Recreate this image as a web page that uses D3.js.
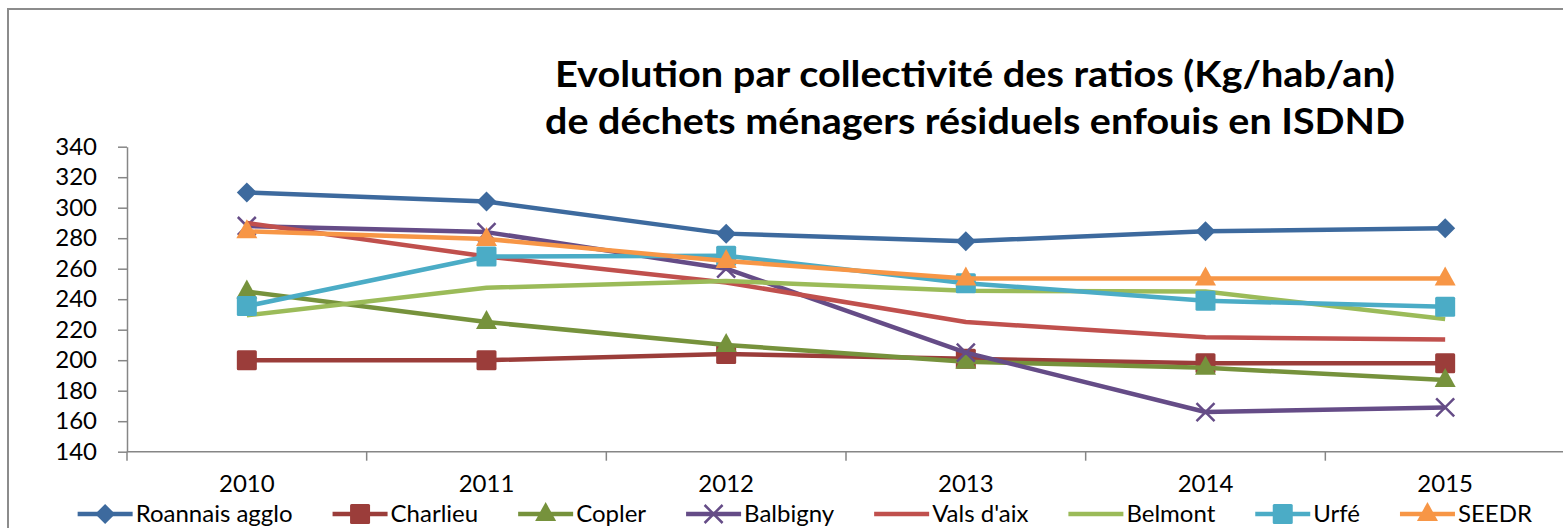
<!DOCTYPE html>
<html>
<head>
<meta charset="utf-8">
<script src="https://cdn.jsdelivr.net/npm/d3@7"></script>
<style>
  html, body { margin: 0; padding: 0; background: #fff; overflow: hidden; }
  svg { display: block; font-family: Lato, "Open Sans", sans-serif; }
</style>
</head>
<body>
<svg id="chart" width="1563" height="528"></svg>
<script>
// données (kg/hab/an)
const years = ["2010", "2011", "2012", "2013", "2014", "2015"];
const seriesNames = ["Roannais agglo", "Charlieu", "Copler", "Balbigny", "Vals d'aix", "Belmont", "Urfé", "SEEDR"];
const roannais = [310, 304, 283, 278, 284.5, 286.5];
const charlieu = [200, 200, 204, 201, 198, 198];
const copler = [245, 225, 210, 199, 195, 187];
const balbigny = [288, 284, 260, 205, 166, 169];
const valsDaix = [290, 268, 251, 225, 215, 213.5];
const belmont = [229.5, 247.5, 252, 245.5, 245, 227];
const urfe = [235.5, 268, 268.5, 250.5, 239, 235];
const seedr = [284.5, 279.5, 265, 253.5, 253.5, 253.5];
const yTicks = [140, 160, 180, 200, 220, 240, 260, 280, 300, 320, 340];
const titleLines = ["Evolution par collectivité des ratios (Kg/hab/an)",
                    "de déchets ménagers résiduels enfouis en ISDND"];

const colors = ["#3d6a9e", "#9b3d3a", "#76923c", "#654c87", "#c0504d", "#9bbb59", "#4bacc6", "#f79646"];
const markers = ["diamond", "square", "triangle", "cross", null, null, "square", "triangle"];
const allValues = [roannais, charlieu, copler, balbigny, valsDaix, belmont, urfe, seedr];

const series = seriesNames.map((name, i) => ({
    name, color: colors[i], marker: markers[i],
    values: years.map((y, j) => ({ year: y, v: allValues[i][j] }))
}));

const cfg = {
    plot: { left: 127, right: 1565, top: 146.7, bottom: 451.7 },
    lineW: 4.5,
    titleW: [840, 860]
};

const svg = d3.select("#chart");

// cadre du graphique
svg.append("rect").attr("x", 8).attr("y", 9).attr("width", 1600).attr("height", 600)
    .attr("fill", "none").attr("stroke", "#8c8c8c").attr("stroke-width", 2);

const x = d3.scaleBand().domain(years).range([cfg.plot.left, cfg.plot.right]);
const y = d3.scaleLinear().domain([140, 340]).range([cfg.plot.bottom, cfg.plot.top]);
const cx = d => x(d) + x.bandwidth() / 2;

// axe Y
const yAxis = svg.append("g").attr("transform", `translate(${cfg.plot.left},0)`)
    .call(d3.axisLeft(y).tickValues(yTicks).tickSize(9).tickPadding(21).tickSizeOuter(0));
yAxis.select(".domain").attr("stroke", "#868686").attr("stroke-width", 1.5);
yAxis.selectAll(".tick line").attr("stroke", "#868686").attr("stroke-width", 1.5);
yAxis.selectAll(".tick text").attr("font-size", 24).attr("fill", "#000")
    .attr("font-family", "Lato, sans-serif");

// axe X (graduations entre catégories)
const xg = svg.append("g");
xg.append("line").attr("x1", cfg.plot.left).attr("x2", cfg.plot.right)
    .attr("y1", cfg.plot.bottom).attr("y2", cfg.plot.bottom)
    .attr("stroke", "#868686").attr("stroke-width", 1.5);
const bounds = years.map(d => x(d)).concat([cfg.plot.right]);
xg.selectAll("line.tk").data(bounds).enter().append("line").attr("class", "tk")
    .attr("x1", d => d).attr("x2", d => d)
    .attr("y1", cfg.plot.bottom).attr("y2", cfg.plot.bottom + 9)
    .attr("stroke", "#868686").attr("stroke-width", 1.5);
xg.selectAll("text").data(years).enter().append("text")
    .attr("x", d => cx(d)).attr("y", 492)
    .attr("text-anchor", "middle").attr("font-size", 24).text(d => d);

// symboles
function drawMarker(g, type, color) {
    if (type === "diamond") {
        g.append("path").attr("d", "M0,-10L10,0L0,10L-10,0Z").attr("fill", color);
    } else if (type === "square") {
        g.append("rect").attr("x", -10).attr("y", -10).attr("width", 20).attr("height", 20)
            .attr("rx", 1.5).attr("fill", color);
    } else if (type === "triangle") {
        g.append("path").attr("d", "M0,-12L10.5,7L-10.5,7Z").attr("fill", color);
    } else if (type === "cross") {
        g.append("path").attr("d", "M-9,-9L9,9M-9,9L9,-9")
            .attr("stroke", color).attr("stroke-width", 2.5).attr("fill", "none");
    }
}

const line = d3.line().x(d => cx(d.year)).y(d => y(d.v));
const sg = svg.append("g");
series.forEach(s => {
    const g = sg.append("g");
    g.append("path").datum(s.values).attr("d", line)
        .attr("fill", "none").attr("stroke", s.color).attr("stroke-width", cfg.lineW)
        .attr("stroke-linejoin", "round");
    if (s.marker) {
        g.selectAll("g.pt").data(s.values).enter().append("g").attr("class", "pt")
            .attr("transform", d => `translate(${cx(d.year)},${y(d.v)})`)
            .each(function () { drawMarker(d3.select(this), s.marker, s.color); });
    }
});

// titre (Calibri gras dans l'original : on resserre à la largeur lue)
const title = svg.append("g");
titleLines.forEach((t, i) => {
    title.append("text").attr("x", 975).attr("y", 87 + i * 47)
        .attr("text-anchor", "middle").attr("font-size", 37).attr("font-weight", "bold")
        .attr("textLength", cfg.titleW[i]).attr("lengthAdjust", "spacingAndGlyphs")
        .text(t);
});

// légende
const leg = svg.append("g");
const legY = 514;
const items = series.map(s => {
    const it = leg.append("g");
    it.append("line").attr("x1", 0).attr("x2", 55).attr("y1", 0).attr("y2", 0)
        .attr("stroke", s.color).attr("stroke-width", cfg.lineW);
    if (s.marker) {
        const m = it.append("g").attr("transform", "translate(27.5,0)");
        drawMarker(m, s.marker, s.color);
    }
    const tx = it.append("text").attr("x", 58).attr("y", 8).attr("font-size", 24).text(s.name);
    return { g: it, w: 58 + tx.node().getComputedTextLength() };
});
const gap = 40;
const total = d3.sum(items, d => d.w) + gap * (items.length - 1);
let lx = 1532 - total;
items.forEach(d => {
    d.g.attr("transform", `translate(${lx},${legY})`);
    lx += d.w + gap;
});
</script>
</body>
</html>
